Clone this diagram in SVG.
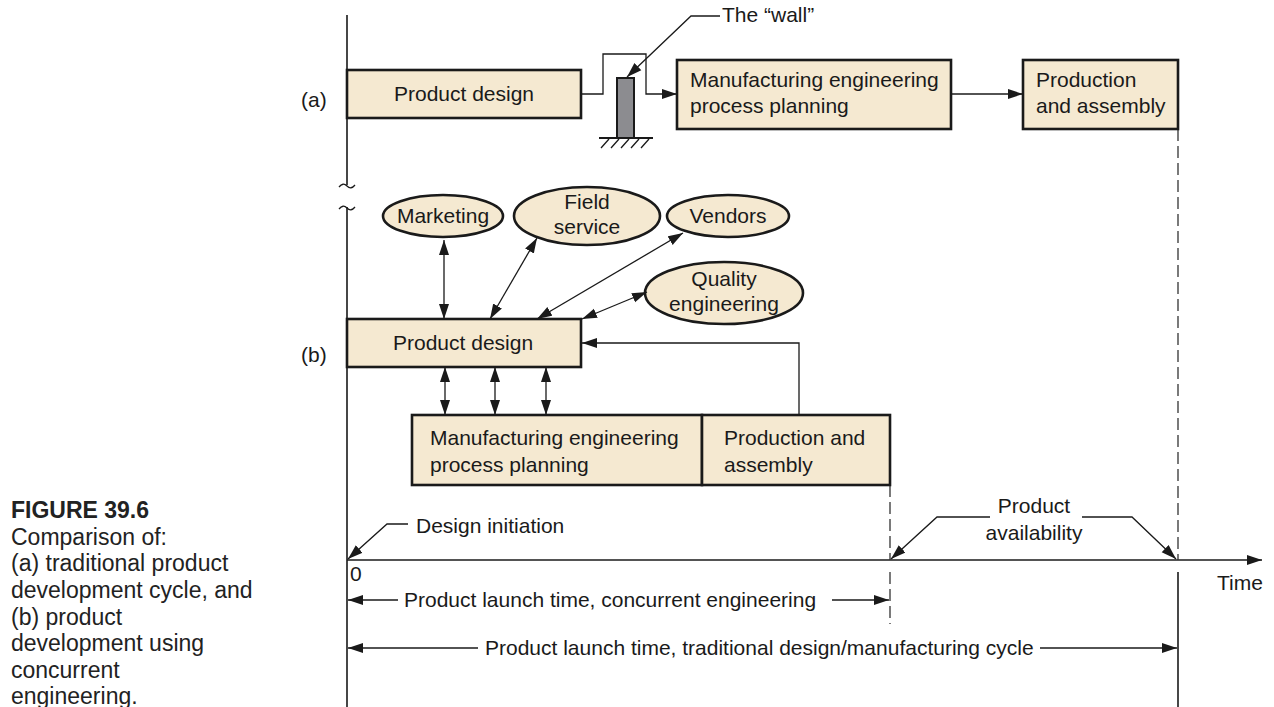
<svg xmlns="http://www.w3.org/2000/svg" width="1274" height="707" viewBox="0 0 1274 707">
<style>
text{font-family:"Liberation Sans",Arial,sans-serif;font-size:21px;fill:#1a1a1a}
.cap{font-size:23px;fill:#222}
.capb{font-size:23px;font-weight:bold;fill:#222}
.box{fill:#f5e9d1;stroke:#1a1a1a;stroke-width:2.6}
.ell{fill:#f5e9d1;stroke:#1a1a1a;stroke-width:2.6}
.ln{fill:none;stroke:#1a1a1a;stroke-width:1.3}
.ax{fill:none;stroke:#1a1a1a;stroke-width:1.6}
.dash{fill:none;stroke:#333;stroke-width:1.3;stroke-dasharray:12 5}
.a{marker-end:url(#ah)}
.aa{marker-end:url(#ah);marker-start:url(#ahs)}
</style>
<defs>
<marker id="ah" markerUnits="userSpaceOnUse" markerWidth="16" markerHeight="11" refX="15" refY="5.5" orient="auto"><path d="M0,0.5 L15,5.5 L0,10.5 z" fill="#1a1a1a"/></marker>
<marker id="ahs" markerUnits="userSpaceOnUse" markerWidth="16" markerHeight="11" refX="15" refY="5.5" orient="auto-start-reverse"><path d="M0,0.5 L15,5.5 L0,10.5 z" fill="#1a1a1a"/></marker>
</defs>
<rect width="1274" height="707" fill="#fff"/>

<g id="axes">
<path class="ax" d="M347,15 V185 M347,207 V707"/>
<path class="ln" d="M339,187 q4,-5 8,-1 q4,4 8,-1 M339,209 q4,-5 8,-1 q4,4 8,-1"/>
<path class="ax a" d="M347,560 H1262"/>
<path class="dash" d="M1178,129 V560 M890,485 V560 M890,572 V624"/>
<path class="ax" d="M1178,572 V707"/>
</g>

<g id="labels">
<text x="301" y="107">(a)</text>
<text x="301" y="362">(b)</text>
<text x="722" y="22">The “wall”</text>
<text x="416" y="533">Design initiation</text>
<text x="1034" y="513" text-anchor="middle">Product</text>
<text x="1034" y="540" text-anchor="middle">availability</text>
<text x="350" y="581">0</text>
<text x="1217" y="590">Time</text>
<text x="404" y="607">Product launch time, concurrent engineering</text>
<text x="485" y="655">Product launch time, traditional design/manufacturing cycle</text>
</g>

<g id="caption">
<text class="capb" x="11" y="518">FIGURE 39.6</text>
<text class="cap" x="11" y="545">Comparison of:</text>
<text class="cap" x="11" y="571">(a) traditional product</text>
<text class="cap" x="11" y="598">development cycle, and</text>
<text class="cap" x="11" y="625">(b) product</text>
<text class="cap" x="11" y="651">development using</text>
<text class="cap" x="11" y="678">concurrent</text>
<text class="cap" x="11" y="704">engineering.</text>
</g>

<g id="wall">
<rect x="617" y="78" width="17" height="60" fill="#8c8c90" stroke="#1a1a1a" stroke-width="2"/>
<path d="M599,138 H653" stroke="#1a1a1a" stroke-width="2.2"/>
<path class="ln" d="M601,148 L609,139 M611,148 L619,139 M621,148 L629,139 M631,148 L639,139 M641,148 L649,139"/>
</g>

<g id="a-product-design">
<rect class="box" x="347" y="70" width="234" height="48"/>
<text x="464" y="101" text-anchor="middle">Product design</text>
</g>
<g id="a-mfg">
<rect class="box" x="677" y="60" width="274" height="69"/>
<text x="690" y="87">Manufacturing engineering</text>
<text x="690" y="113">process planning</text>
</g>
<g id="a-prod">
<rect class="box" x="1023" y="60" width="155" height="69"/>
<text x="1036" y="87">Production</text>
<text x="1036" y="113">and assembly</text>
</g>

<g id="marketing">
<ellipse class="ell" cx="443" cy="216" rx="60" ry="21"/>
<text x="443" y="223" text-anchor="middle">Marketing</text>
</g>
<g id="field-service">
<ellipse class="ell" cx="587" cy="216" rx="73" ry="29"/>
<text x="587" y="209" text-anchor="middle">Field</text>
<text x="587" y="234" text-anchor="middle">service</text>
</g>
<g id="vendors">
<ellipse class="ell" cx="728" cy="216" rx="61" ry="21"/>
<text x="728" y="223" text-anchor="middle">Vendors</text>
</g>
<g id="quality">
<ellipse class="ell" cx="724" cy="293" rx="79" ry="31"/>
<text x="724" y="286" text-anchor="middle">Quality</text>
<text x="724" y="311" text-anchor="middle">engineering</text>
</g>

<g id="b-product-design">
<rect class="box" x="347" y="319" width="234" height="48"/>
<text x="393" y="350">Product design</text>
</g>
<g id="b-mfg">
<rect class="box" x="412" y="415" width="290" height="70"/>
<text x="430" y="445">Manufacturing engineering</text>
<text x="430" y="472">process planning</text>
</g>
<g id="b-prod">
<rect class="box" x="702" y="415" width="188" height="70"/>
<text x="724" y="445">Production and</text>
<text x="724" y="472">assembly</text>
</g>

<g id="connectors">
<path class="ln a" d="M581,94 H603 V54 H646 V94 H677"/>
<path class="ln a" d="M720,16 H691 L627,77"/>
<path class="ln a" d="M951,94 H1023"/>
<path class="ln aa" d="M444,240 V319"/>
<path class="ln aa" d="M537,238 L490,319"/>
<path class="ln aa" d="M683,233 L537,319"/>
<path class="ln aa" d="M647,292 L582,319"/>
<path class="ln aa" d="M445,367 V415"/>
<path class="ln aa" d="M495,367 V415"/>
<path class="ln aa" d="M546,367 V415"/>
<path class="ln a" d="M799,415 V343 H582"/>
<path class="ln a" d="M408,524 H387 L348,559"/>
<path class="ln a" d="M990,517 H937 L891,559"/>
<path class="ln a" d="M1082,517 H1132 L1176,559"/>
<path class="ln a" d="M398,600 H348"/>
<path class="ln a" d="M832,600 H889"/>
<path class="ln a" d="M478,648 H348"/>
<path class="ln a" d="M1040,648 H1177"/>
</g>
</svg>
